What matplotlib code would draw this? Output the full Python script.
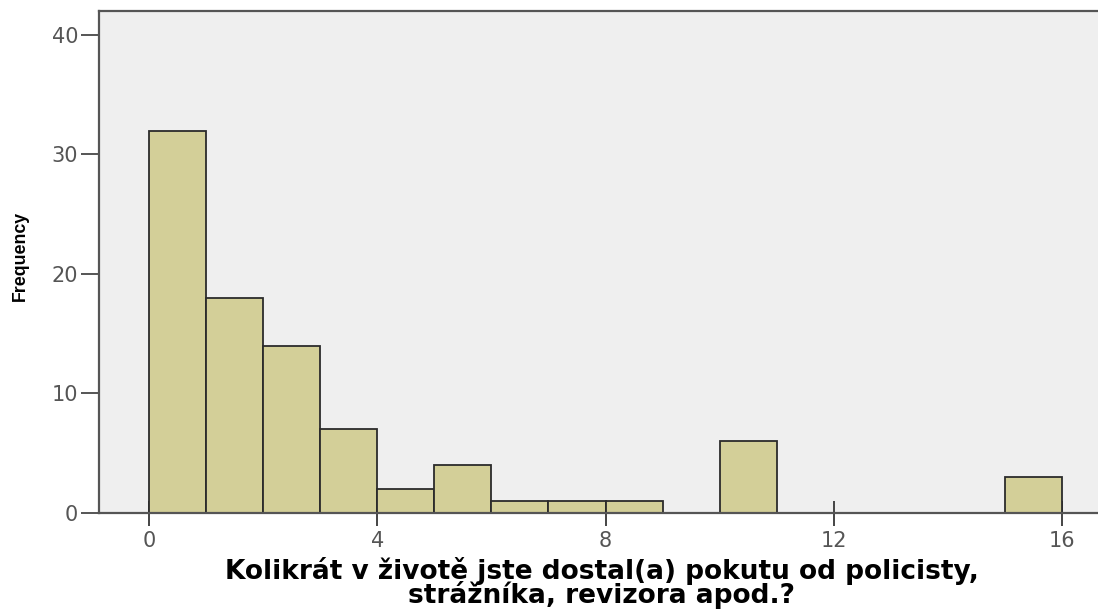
import matplotlib.pyplot as plt

# === DATA (histogram bins of width 1) ===
bin_left = [0, 1, 2, 3, 4, 5, 6, 7, 8, 10, 15]
counts = [32, 18, 14, 7, 2, 4, 1, 1, 1, 6, 3]
x_ticks = [0, 4, 8, 12, 16]
y_ticks = [0, 10, 20, 30, 40]

fig = plt.figure(figsize=(10.98, 6.13), dpi=100)
ax = fig.add_axes([0.0902, 0.1631, 0.9098, 0.8189])
ax.set_facecolor('#efefef')

ax.bar(bin_left, counts, width=1, align='edge', color='#d3cf98',
       edgecolor='#2b2b2b', linewidth=1.3, zorder=2)

ax.set_xlim(-0.876, 16.63)
ax.set_ylim(0, 42.0)
ax.set_xticks(x_ticks)
ax.set_yticks(y_ticks)

ax.spines['right'].set_visible(False)
for s in ['left', 'bottom', 'top']:
    ax.spines[s].set_color('#555555')
    ax.spines[s].set_linewidth(1.6)

ax.tick_params(axis='y', direction='out', length=13, width=1.4, color='#555555',
               labelsize=15, labelcolor='#555555', pad=2)
ax.tick_params(axis='x', direction='inout', length=18, width=1.4, color='#444444',
               labelsize=15, labelcolor='#555555', pad=4)

ax.set_ylabel('Frequency', fontsize=12.8, fontweight='bold',
              family=['Liberation Sans', 'DejaVu Sans'])
ax.yaxis.set_label_coords(-0.070, 0.512)

fig.text(0.548, 1 - 557 / 613,
         'Kolikrát v životě jste dostal(a) pokutu od policisty,\nstrážníka, revizora apod.?',
         ha='center', va='top', fontsize=19, fontweight='bold',
         linespacing=0.82, family='DejaVu Sans')

fig.savefig('out.png', dpi=100)
